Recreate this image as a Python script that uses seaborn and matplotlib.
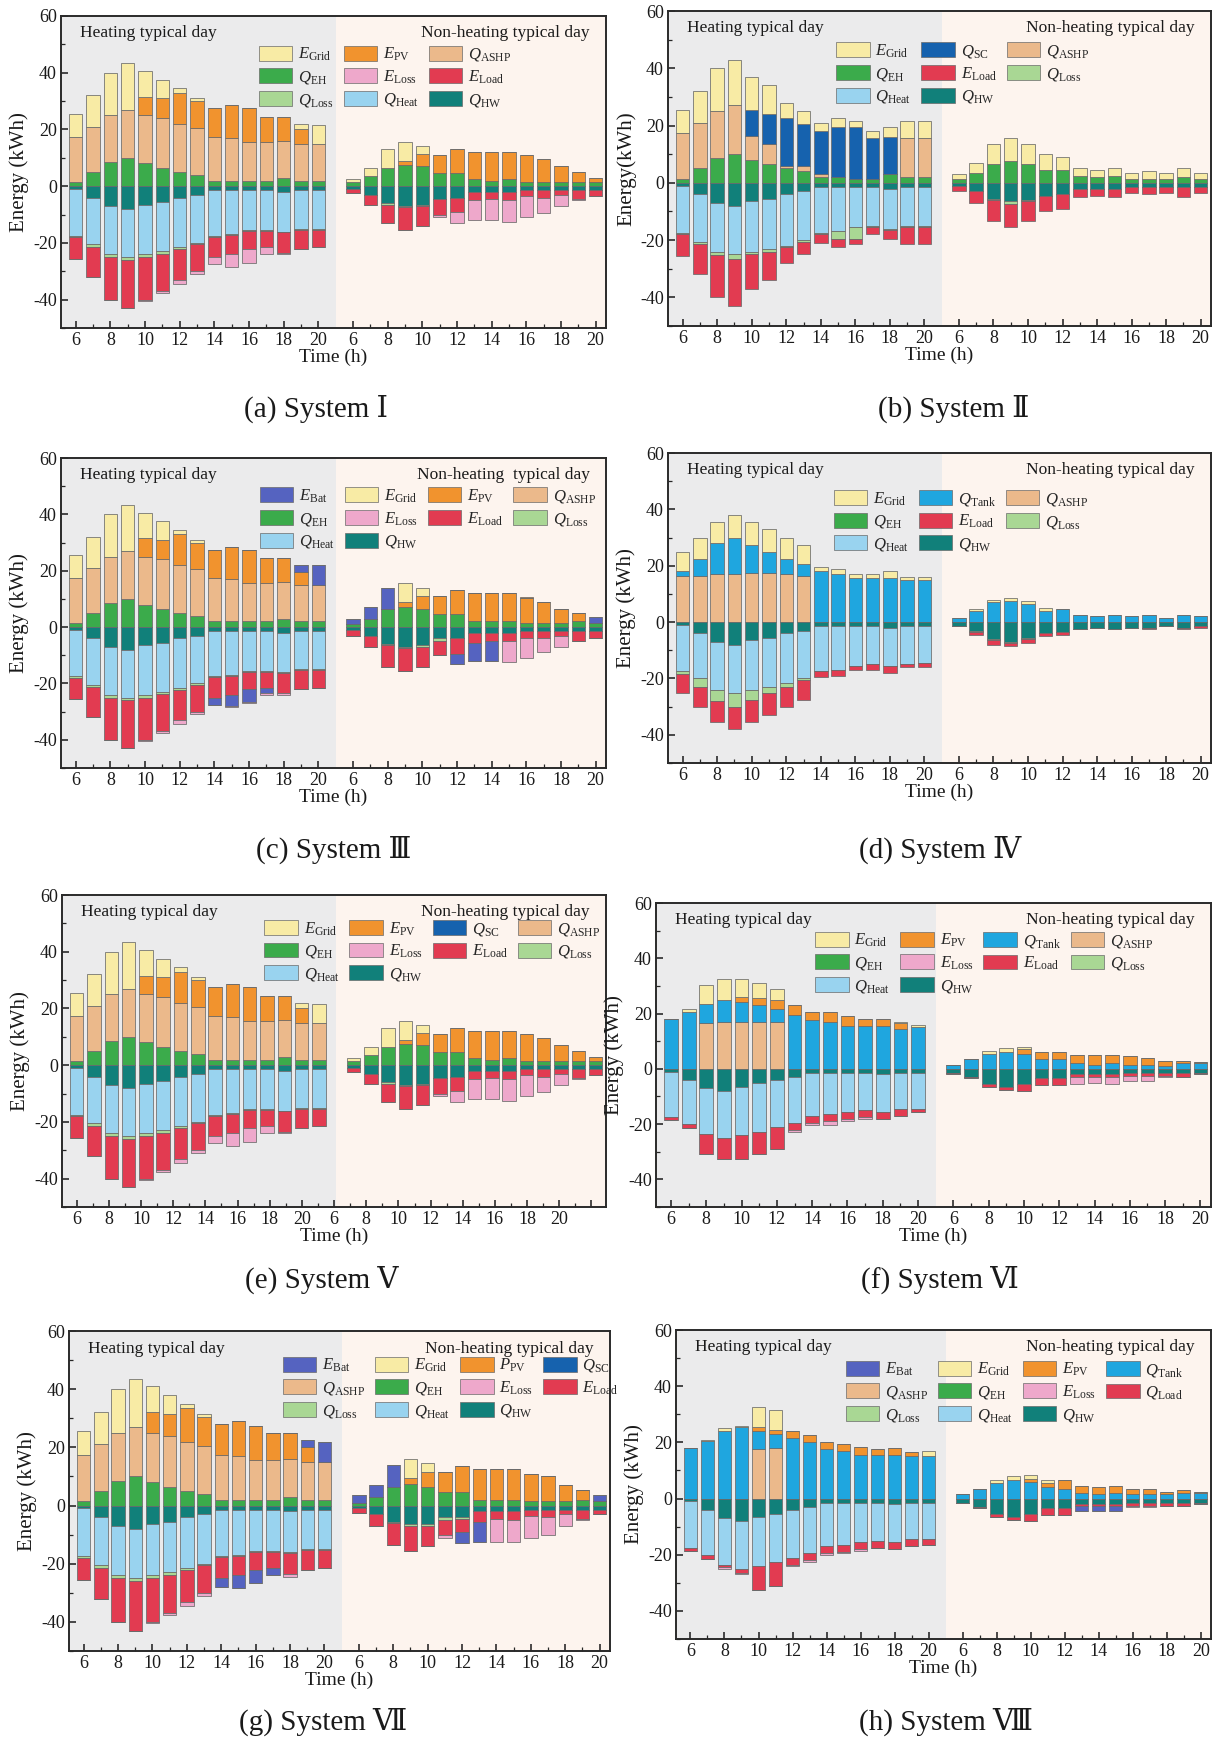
import numpy as np
import pandas as pd
import matplotlib
matplotlib.use("Agg")
import matplotlib.pyplot as plt
import seaborn as sns
from matplotlib.patches import Patch
from matplotlib.ticker import MultipleLocator, FixedLocator

sns.set_theme(style="ticks")
plt.rcParams['font.family'] = ['Liberation Serif', 'DejaVu Serif', 'DejaVu Sans']
plt.rcParams['mathtext.fontset'] = 'custom'
plt.rcParams['mathtext.rm'] = 'Liberation Serif'
plt.rcParams['mathtext.it'] = 'Liberation Serif:italic'
plt.rcParams['axes.unicode_minus'] = False

# ---------------- data ----------------
HOURS = [6, 7, 8, 9, 10, 11, 12, 13, 14, 15, 16, 17, 18, 19, 20]

# heating-day hot-water demand (same in every system)
HW_H = [1, 4, 7, 8, 6.5, 5.5, 4, 3, 1.5, 1.5, 1.5, 1.5, 2, 1.5, 1.5]

# ---- System I (also used for System V) : heating 15 values, then non-heating 15 values
S1_EH = [1.5, 5, 8.5, 10, 8, 6.5, 5, 4, 2, 2, 2, 2, 3, 2, 2,
         1.5, 3.5, 6.5, 7.5, 7, 4.5, 4.5, 2.5, 2, 2.5, 1.5, 1.5, 1.5, 1.5, 1.5]
S1_ASHP = [16, 16, 16.5, 17, 17, 17.5, 17, 16.5, 15.5, 15, 13.5, 13.5, 13, 13, 13,
           0, 0, 0, 0, 0, 0, 0, 0, 0, 0, 0, 0, 0, 0, 0]
S1_PV = [0, 0, 0, 0, 6.5, 7, 11, 9.5, 10, 11.5, 12, 9, 8.5, 5, 0,
         0, 0, 0, 1.5, 4.5, 6.5, 8.5, 9.5, 10, 9.5, 9.5, 8, 5.5, 3.5, 1.5]
S1_GRID = [8, 11, 15, 16.5, 9, 6.5, 1.5, 1, 0, 0, 0, 0, 0, 2, 6.5,
           1, 3, 6.5, 6.5, 2.5, 0, 0, 0, 0, 0, 0, 0, 0, 0, 0]
S1_HW_N = [1, 3, 6, 7, 6.5, 4.5, 4, 2, 2, 2, 1.5, 1.5, 1.5, 1.5, 1.5]
S1_HEAT = [16.5, 16.5, 17, 17, 17.5, 17.5, 17.5, 17, 16, 15.5, 14, 14, 14, 13.5, 13.5,
           0, 0, 0, 0, 0, 0, 0, 0, 0, 0, 0, 0, 0, 0, 0]
S1_QLOSS = [0.5, 0.8, 1, 1, 1, 0.8, 0.8, 0.5, 0.3, 0.3, 0.3, 0.3, 0.3, 0.3, 0.3,
            0, 0, 0.5, 0.5, 0.5, 0, 0, 0, 0, 0, 0, 0, 0, 0, 0]
S1_LOAD = [7.5, 10.7, 15, 17, 15, 13.2, 10.7, 9.5, 7.2, 6.7, 6.2, 5.7, 7.2, 6.7, 6.2,
           1.5, 3.5, 6.5, 8, 7, 5.5, 5, 3, 2.5, 3, 2, 2.5, 1.5, 3, 2]
S1_ELOSS = [0, 0, 0, 0, 0.5, 0.5, 1.5, 1, 2.5, 4.5, 5, 2.5, 0.5, 0, 0,
            0, 0, 0, 0, 0, 1, 4, 7, 7.5, 7.5, 7.5, 5.5, 4, 0.5, 0]

# ---- System II
S2_EH = [1.5, 5, 8.5, 10, 8, 6.5, 5, 4, 2, 2, 1.5, 1.5, 3, 2, 2,
         1.5, 3.5, 6.5, 7.5, 6.5, 4.5, 4.5, 2.5, 2, 2.5, 1.5, 1.5, 1.5, 2, 1.5]
S2_ASHP = [16, 16, 16.5, 17, 8.5, 7, 1, 2, 1, 0, 0, 0, 0, 13.5, 13.5,
           0, 0, 0, 0, 0, 0, 0, 0, 0, 0, 0, 0, 0, 0, 0]
S2_SC = [0, 0, 0, 0, 9, 10.5, 16.5, 14.5, 15, 17.5, 18, 14, 13, 0, 0,
         0, 0, 0, 0, 0, 0, 0, 0, 0, 0, 0, 0, 0, 0, 0]
S2_GRID = [8, 11, 15, 16, 11.5, 10, 5.5, 4.5, 3, 3, 2, 2.5, 3.5, 6, 6,
           1.5, 3.5, 7, 8, 7, 5.5, 4.5, 2.5, 2.5, 2.5, 2, 2.5, 2, 3, 2]
S2_HW_N = [1, 3, 5.5, 6.5, 6, 4.5, 4, 2, 2, 2, 1.5, 1.5, 1.5, 1.5, 1.5]
S2_HEAT = [16.5, 16.5, 17, 17, 17.5, 17.5, 18, 17, 16, 15.5, 14, 13.5, 14, 13.5, 13.5,
           0, 0, 0, 0, 0, 0, 0, 0, 0, 0, 0, 0, 0, 0, 0]
S2_QLOSS = [0.5, 0.8, 1.2, 1.5, 1, 1, 0.5, 0.5, 0.5, 2.5, 4, 0.5, 0.5, 0.3, 0.3,
            0, 0, 0.5, 1, 0.5, 0, 0, 0, 0, 0, 0, 0, 0, 0, 0]
S2_LOAD = [7.5, 10.7, 14.8, 16.5, 12, 10, 5.5, 4.5, 3, 3, 2, 2.5, 3, 6.2, 6.2,
           2, 4, 7.5, 8, 7, 5.5, 5, 3, 2.5, 3, 2, 2.5, 2, 3.5, 2]

# ---- System III
S3_EH_N = [1, 3, 6.5, 7, 6.5, 4.5, 4.5, 2, 2, 2, 1.5, 1.5, 1.5, 2, 1.5]
S3_PV = [0, 0, 0, 0, 6.5, 7, 11, 9.5, 10, 11.5, 12, 9, 8.5, 4.5, 0,
         0, 0, 0, 2, 4.5, 6.5, 8.5, 10, 10, 10, 9, 7.5, 5, 3, 0]
S3_BAT = [0, 0, 0, 0, 0, 0, 0, 0, 0, 0, 0, 0, 0, 2.5, 7,
          2, 4, 7.5, 0, 0, 0, 0, 0, 0, 0, 0, 0, 0, 0, 2]
S3_GRID = [8, 11, 15, 16.5, 9, 6.5, 1.5, 1, 0, 0, 0, 0, 0, 0, 0,
           0, 0, 0, 6.5, 3, 0, 0, 0, 0, 0, 0, 0, 0, 0, 0]
S3_HW_N = [1, 3, 6, 7, 6.5, 4, 4, 2, 2, 2, 1.5, 1.5, 1.5, 1.5, 1.5]
S3_QLOSS_N = [0, 0, 0.5, 0.5, 0.5, 1, 0, 0, 0, 0, 0, 0, 0, 0, 0]
S3_LOAD_N = [2, 4, 7.5, 8, 7, 5, 5.5, 3.5, 3, 3, 2.5, 2.5, 1.5, 3.5, 2.5]
S3_BATC = [0, 0, 0, 0, 0, 0, 0, 0, 2.5, 4, 4.5, 2, 0, 0, 0,
           0, 0, 0, 0, 0, 0, 3.5, 6.5, 7, 0, 0, 0, 0, 0, 0]
S3_ELOSS = [0, 0, 0, 0, 0.5, 0.5, 1.5, 1, 0, 0.5, 0.5, 0.5, 0.5, 0, 0,
            0, 0, 0, 0, 0, 0, 0, 0, 0, 7.5, 7, 5, 4, 0, 0]

# ---- System IV
S4_ASHP = [16.5, 16.5, 17, 17, 17.5, 17.5, 17, 16.5, 0, 0, 0, 0, 0, 0, 0,
           0, 0, 0, 0, 0, 0, 0, 0, 0, 0, 0, 0, 0, 0, 0]
S4_TANK = [1.5, 6, 11, 13, 10, 7.5, 5.5, 4, 18, 17, 15.5, 15.5, 15.5, 15, 15,
           1.5, 4, 7, 7.5, 6.5, 4, 4.5, 2.5, 2, 2.5, 2, 2.5, 1.5, 2.5, 2]
S4_GRID = [7, 7.5, 7.5, 8, 8, 8, 7.5, 7, 1.5, 2, 1.5, 1.5, 2.5, 1, 1,
           0, 0.5, 1, 1, 1, 1, 0, 0, 0, 0, 0, 0, 0, 0, 0]
S4_HW_N = [1.5, 3, 6, 7, 5.5, 4, 3.5, 2.5, 2, 2.5, 2, 2, 1.5, 2, 1.5]
S4_HEAT = [16.5, 16, 17, 17, 17.5, 17.5, 17.5, 17, 16, 15.5, 14, 13.5, 13.5, 13.5, 13,
           0, 0, 0, 0, 0, 0, 0, 0, 0, 0, 0, 0, 0, 0, 0]
S4_QLOSS = [1, 3, 4, 5, 3.5, 2, 1.5, 0.5, 0, 0, 0, 0, 0, 0, 0,
            0, 0.5, 0.5, 0.5, 0.5, 0, 0, 0, 0, 0, 0, 0, 0, 0, 0]
S4_LOAD = [6.5, 7, 7.5, 8, 8, 8, 7, 7, 2, 2, 1.5, 2, 2.5, 1, 1.5,
           0, 1, 1.5, 1, 1.5, 1, 1, 0, 0, 0, 0, 0.5, 0, 0.5, 0.5]

# ---- System VI
S6_ASHP = [0, 0, 16.5, 17, 17, 17, 17, 0, 0, 0, 0, 0, 0, 0, 0,
           0, 0, 0, 0, 0, 0, 0, 0, 0, 0, 0, 0, 0, 0, 0]
S6_TANK = [18, 20.5, 7, 8, 7, 6, 4.5, 19.5, 17.5, 17, 15.5, 15.5, 15.5, 14.5, 15,
           1.5, 3.5, 5.5, 6, 5.5, 3.5, 3.5, 2, 1.5, 2, 1.5, 1.5, 1, 2, 2]
S6_PV = [0, 0, 0, 0, 2, 2.5, 3.5, 3.5, 3, 3.5, 3.5, 2.5, 2.5, 2, 0,
         0, 0, 0, 0, 1.5, 2.5, 2.5, 3, 3.5, 3, 3, 2.5, 2, 1, 0.5]
S6_GRID = [0, 1, 7, 7.5, 6.5, 5.5, 4, 0, 0, 0, 0, 0, 0, 0.5, 1,
           0, 0, 1, 1.5, 1, 0, 0, 0, 0, 0, 0, 0, 0, 0, 0]
S6_HW = [1, 4, 7, 8, 6.5, 5, 4, 3, 1.5, 1.5, 1.5, 1.5, 2, 1.5, 1.5,
         1.5, 3, 5.5, 6.5, 5.5, 3.5, 3.5, 2, 2, 2, 1.5, 1.5, 1.5, 1.5, 1.5]
S6_HEAT = [16.5, 16, 16.5, 17, 17.5, 18, 17, 16.5, 15.5, 15, 14, 13.5, 13.5, 13, 13,
           0, 0, 0, 0, 0, 0, 0, 0, 0, 0, 0, 0, 0, 0, 0]
S6_LOAD = [1, 1.5, 7.5, 7.5, 8.5, 8, 8, 2.5, 2.5, 2.5, 2.5, 2.5, 2.5, 2.5, 1,
           0.5, 0.5, 1, 1, 2.5, 2.5, 2.5, 1, 1, 1, 1, 1, 1, 1.5, 0.5]
S6_ELOSS = [0, 0, 0, 0, 0, 0, 0, 1, 1, 1.5, 1, 0.5, 0, 0, 0,
            0, 0, 0, 0, 0, 0, 0, 2.5, 2, 2.5, 2, 2, 0.5, 0, 0]

# ---- System VII
S7_EH_N = [1, 3, 6.5, 7.5, 6.5, 4.5, 4.5, 2, 2, 2, 1.5, 1.5, 1.5, 2, 1.5]
S7_PV = [0, 0, 0, 0, 7, 7.5, 11.5, 10, 10.5, 12, 12, 9.5, 9, 5, 0,
         0, 0, 0, 2, 5, 7, 9, 10.5, 10.5, 10.5, 9.5, 8.5, 5.5, 3.5, 0]
S7_BAT = [0, 0, 0, 0, 0, 0, 0, 0, 0, 0, 0, 0, 0, 2.5, 7,
          2.5, 4, 7.5, 0, 0, 0, 0, 0, 0, 0, 0, 0, 0, 0, 2]
S7_GRID = [8, 11, 15, 16.5, 9, 6.5, 1.5, 1, 0, 0, 0, 0, 0, 0, 0,
           0, 0, 0, 6.5, 3, 0, 0, 0, 0, 0, 0, 0, 0, 0, 0]
S7_HW_N = [1, 3, 5.5, 6.5, 6.5, 4, 4, 2, 2, 2, 1.5, 1.5, 1.5, 1.5, 1.5]
S7_QLOSS_N = [0, 0, 0.5, 0.5, 0.5, 1, 0.5, 0, 0, 0, 0, 0, 0, 0, 0]
S7_LOAD_N = [1.5, 4, 7.5, 8.5, 7, 5, 4.5, 3.5, 2.5, 3, 2, 2.5, 1.5, 3, 1.5]
S7_BATC = [0, 0, 0, 0, 0, 0, 0, 0, 3, 4.5, 4.5, 2.5, 0, 0, 0,
           0, 0, 0, 0, 0, 0, 4, 7, 0, 0, 0, 0, 0, 0, 0]
S7_ELOSS = [0, 0, 0, 0, 0.5, 0.5, 1.5, 1, 0, 0, 0, 0, 1, 0, 0,
            0, 0, 0, 0, 0, 1, 0, 0, 8, 7.5, 7.5, 6, 4, 0.5, 0]

# ---- System VIII
S8_ASHP = [0, 0, 0, 0, 17.5, 18, 0, 0, 0, 0, 0, 0, 0, 0, 0,
           0, 0, 0, 0, 0, 0, 0, 0, 0, 0, 0, 0, 0, 0, 0]
S8_TANK = [18, 20.5, 24, 25.5, 6.5, 5, 21.5, 20, 17.5, 17, 15.5, 15.5, 15.5, 15, 15,
           1.5, 3.5, 5.5, 6.5, 6, 4, 3.5, 2, 1.5, 2, 1.5, 1.5, 1.5, 2, 2]
S8_PV = [0, 0, 0, 0, 1.5, 1.5, 2.5, 2.5, 2.5, 2.5, 3, 2, 2.5, 1.5, 0,
         0, 0, 0, 0, 1, 1.5, 3, 2.5, 2.5, 2.5, 2, 2, 1, 1, 0.5]
S8_GRID = [0, 0.5, 1, 0.5, 7, 7, 0, 0, 0, 0, 0, 0, 0, 0, 2,
           0, 0, 1, 1.5, 1.5, 1, 0, 0, 0, 0, 0, 0, 0, 0, 0]
S8_HW_N = [1.5, 3, 5.5, 6.5, 5.5, 3.5, 3.5, 2, 2, 2, 1.5, 1.5, 1.5, 1.5, 1.5]
S8_HEAT = [16.5, 16, 16.5, 17, 17.5, 17, 17, 16.5, 15.5, 15, 14, 13.5, 13.5, 13, 13,
           0, 0, 0, 0, 0, 0, 0, 0, 0, 0, 0, 0, 0, 0, 0]
S8_LOAD = [1, 1.5, 1, 1.5, 8.5, 8.5, 2.5, 2.5, 2.5, 2.5, 2.5, 2.5, 2.5, 2.5, 2,
           0, 0.5, 1, 1, 2.5, 2.5, 2.5, 0.5, 0.5, 0.5, 1, 1, 1, 1, 0.5]
S8_BATC = [0, 0, 0, 0, 0, 0, 0, 0, 0, 0, 0, 0, 0, 0, 0,
           0, 0, 0, 0, 0, 0, 0, 2, 2, 2, 0, 0, 0, 0, 0]
S8_ELOSS = [0, 0, 0.5, 0.5, 0, 0, 0.5, 0.5, 0.5, 0.5, 0.5, 0, 0, 0, 0,
            0, 0, 0, 0, 0, 0, 0, 0, 0, 0, 0.5, 0.5, 0, 0, 0]

# ---------------- styles ----------------
COLORS = {
    'E_Bat': '#5563c0', 'E_Grid': '#f8eba5', 'E_PV': '#f1932e', 'P_PV': '#f1932e',
    'Q_SC': '#1662ae', 'Q_Tank': '#1fa6df', 'Q_ASHP': '#ebb98b', 'Q_EH': '#3bab4b',
    'E_Loss': '#eea8cb', 'E_Load': '#e23b51', 'Q_Load': '#e23b51', 'Q_Loss': '#a9d794',
    'Q_Heat': '#99d3ef', 'Q_HW': '#11807a',
}
LABELS = {k: r'$%s_{\mathrm{%s}}$' % tuple(k.split('_')) for k in COLORS}
EDGE = '#6a6a6a'
HEAT_BG = '#ebebec'
NONHEAT_BG = '#fdf4ee'
XLIM = (-0.85, 30.6)
NH = len(HOURS)
X_POS = np.r_[np.arange(NH), np.arange(NH) + NH + 1]
MAJOR_POS = list(np.r_[X_POS[:NH][::2], X_POS[NH:][::2]])
MINOR_POS = list(np.r_[X_POS[:NH][1::2], X_POS[NH:][1::2]])

def both(h, n):
    return list(h) + list(n)

S1_HW = both(HW_H, S1_HW_N)

PANELS = [
    dict(tag='(a) System Ⅰ', box=(61, 16, 606, 328), cap=(316, 409), ylabel='Energy (kWh)',
         pos=[('Q_EH', S1_EH), ('Q_ASHP', S1_ASHP), ('E_PV', S1_PV), ('E_Grid', S1_GRID)],
         neg=[('Q_HW', S1_HW), ('Q_Heat', S1_HEAT), ('Q_Loss', S1_QLOSS), ('E_Load', S1_LOAD), ('E_Loss', S1_ELOSS)],
         legend=['E_Grid', 'E_PV', 'Q_ASHP', 'Q_EH', 'E_Loss', 'E_Load', 'Q_Loss', 'Q_Heat', 'Q_HW'],
         ncol=3, leg=(0.363, 0.905), nh='Non-heating typical day'),
    dict(tag='(b) System Ⅱ', box=(668, 11, 1211, 326), cap=(954, 409), ylabel='Energy(kWh)',
         pos=[('Q_EH', S2_EH), ('Q_ASHP', S2_ASHP), ('Q_SC', S2_SC), ('E_Grid', S2_GRID)],
         neg=[('Q_HW', both(HW_H, S2_HW_N)), ('Q_Heat', S2_HEAT), ('Q_Loss', S2_QLOSS), ('E_Load', S2_LOAD)],
         legend=['E_Grid', 'Q_SC', 'Q_ASHP', 'Q_EH', 'E_Load', 'Q_Loss', 'Q_Heat', 'Q_HW'],
         ncol=3, leg=(0.31, 0.90), nh='Non-heating typical day'),
    dict(tag='(c) System Ⅲ', box=(61, 458, 606, 768), cap=(334, 850), ylabel='Energy (kWh)',
         pos=[('Q_EH', both(S1_EH[:15], S3_EH_N)), ('Q_ASHP', S1_ASHP), ('E_PV', S3_PV), ('E_Bat', S3_BAT), ('E_Grid', S3_GRID)],
         neg=[('Q_HW', both(HW_H, S3_HW_N)), ('Q_Heat', S1_HEAT), ('Q_Loss', both(S1_QLOSS[:15], S3_QLOSS_N)),
              ('E_Load', both(S1_LOAD[:15], S3_LOAD_N)), ('E_Bat', S3_BATC), ('E_Loss', S3_ELOSS)],
         legend=['E_Bat', 'E_Grid', 'E_PV', 'Q_ASHP', 'Q_EH', 'E_Loss', 'E_Load', 'Q_Loss', 'Q_Heat', 'Q_HW'],
         ncol=4, leg=(0.365, 0.905), nh='Non-heating  typical day'),
    dict(tag='(d) System Ⅳ', box=(668, 453, 1211, 763), cap=(940, 850), ylabel='Energy (kWh)',
         pos=[('Q_ASHP', S4_ASHP), ('Q_Tank', S4_TANK), ('E_Grid', S4_GRID)],
         neg=[('Q_HW', both(HW_H, S4_HW_N)), ('Q_Heat', S4_HEAT), ('Q_Loss', S4_QLOSS), ('E_Load', S4_LOAD)],
         legend=['E_Grid', 'Q_Tank', 'Q_ASHP', 'Q_EH', 'E_Load', 'Q_Loss', 'Q_Heat', 'Q_HW'],
         ncol=3, leg=(0.305, 0.88), nh='Non-heating typical day'),
    dict(tag='(e) System Ⅴ', box=(62, 895, 606, 1207), cap=(322, 1280), ylabel='Energy (kWh)',
         pos=[('Q_EH', S1_EH), ('Q_ASHP', S1_ASHP), ('E_PV', S1_PV), ('E_Grid', S1_GRID)],
         neg=[('Q_HW', S1_HW), ('Q_Heat', S1_HEAT), ('Q_Loss', S1_QLOSS), ('E_Load', S1_LOAD), ('E_Loss', S1_ELOSS)],
         legend=['E_Grid', 'E_PV', 'Q_SC', 'Q_ASHP', 'Q_EH', 'E_Loss', 'E_Load', 'Q_Loss', 'Q_Heat', 'Q_HW'],
         ncol=4, leg=(0.372, 0.92), nh='Non-heating typical day', odd_ticks=True),
    dict(tag='(f) System Ⅵ', box=(656, 903, 1211, 1207), cap=(940, 1280), ylabel='Energy (kWh)',
         pos=[('Q_ASHP', S6_ASHP), ('Q_Tank', S6_TANK), ('E_PV', S6_PV), ('E_Grid', S6_GRID)],
         neg=[('Q_HW', S6_HW), ('Q_Heat', S6_HEAT), ('E_Load', S6_LOAD), ('E_Loss', S6_ELOSS)],
         legend=['E_Grid', 'E_PV', 'Q_Tank', 'Q_ASHP', 'Q_EH', 'E_Loss', 'E_Load', 'Q_Loss', 'Q_Heat', 'Q_HW'],
         ncol=4, leg=(0.287, 0.905), nh='Non-heating typical day'),
    dict(tag='(g) System Ⅶ', box=(69, 1331, 610, 1651), cap=(323, 1722), ylabel='Energy (kWh)',
         pos=[('Q_EH', both(S1_EH[:15], S7_EH_N)), ('Q_ASHP', S1_ASHP), ('P_PV', S7_PV), ('E_Bat', S7_BAT), ('E_Grid', S7_GRID)],
         neg=[('Q_HW', both(HW_H, S7_HW_N)), ('Q_Heat', S1_HEAT), ('Q_Loss', both(S1_QLOSS[:15], S7_QLOSS_N)),
              ('E_Load', both(S1_LOAD[:15], S7_LOAD_N)), ('E_Bat', S7_BATC), ('E_Loss', S7_ELOSS)],
         legend=['E_Bat', 'E_Grid', 'P_PV', 'Q_SC', 'Q_ASHP', 'Q_EH', 'E_Loss', 'E_Load', 'Q_Loss', 'Q_Heat', 'Q_HW'],
         ncol=4, leg=(0.395, 0.92), nh='Non-heating typical day'),
    dict(tag='(h) System Ⅷ', box=(676, 1330, 1211, 1639), cap=(946, 1722), ylabel='Energy (kWh)',
         pos=[('Q_ASHP', S8_ASHP), ('Q_Tank', S8_TANK), ('E_PV', S8_PV), ('E_Grid', S8_GRID)],
         neg=[('Q_HW', both(HW_H, S8_HW_N)), ('Q_Heat', S8_HEAT), ('Q_Load', S8_LOAD), ('E_Bat', S8_BATC), ('E_Loss', S8_ELOSS)],
         legend=['E_Bat', 'E_Grid', 'E_PV', 'Q_Tank', 'Q_ASHP', 'Q_EH', 'E_Loss', 'Q_Load', 'Q_Loss', 'Q_Heat', 'Q_HW'],
         ncol=4, leg=(0.317, 0.90), nh='Non-heating typical day'),
]


def colmajor(keys, ncol):
    nrow = -(-len(keys) // ncol)
    out = []
    for c in range(ncol):
        for r in range(nrow):
            i = r * ncol + c
            if i < len(keys):
                out.append(keys[i])
    return out


def draw_stack(ax, layers, sign):
    base = np.zeros(len(X_POS))
    for key, vals in layers:
        v = sign * np.asarray(vals, dtype=float)
        df = pd.DataFrame({'x': X_POS, 'y': v})
        sns.barplot(data=df, x='x', y='y', bottom=base, native_scale=True,
                    color=COLORS[key], saturation=1, width=0.78, errorbar=None,
                    edgecolor=EDGE, linewidth=0.55, legend=False, ax=ax, zorder=2)
        base = base + v


W, H = 1215, 1744
fig = plt.figure(figsize=(W / 100, H / 100), dpi=100)
fig.patch.set_facecolor('white')

for p in PANELS:
    L, T, R, B = p['box']
    ax = fig.add_axes([L / W, 1 - B / H, (R - L) / W, (B - T) / H])
    ax.axvspan(XLIM[0], NH, color=HEAT_BG, zorder=0, lw=0)
    ax.axvspan(NH, XLIM[1], color=NONHEAT_BG, zorder=0, lw=0)
    draw_stack(ax, p['pos'], 1)
    draw_stack(ax, p['neg'], -1)
    ax.set_xlim(*XLIM)
    ax.set_ylim(-50, 60)
    ax.set_yticks([-40, -20, 0, 20, 40, 60])
    ax.set_yticklabels(['-40', '-20', '0', '20', '40', '60'])
    ax.yaxis.set_minor_locator(MultipleLocator(10))
    tick_labels = [str(h) for h in HOURS[::2]] * 2
    if p.get('odd_ticks'):
        step = 1.86
        majors = [k * step for k in range(len(tick_labels) + 1)]
        ax.xaxis.set_major_locator(FixedLocator(majors))
        ax.set_xticklabels(tick_labels + [''])
        ax.xaxis.set_minor_locator(FixedLocator([m + step / 2 for m in majors]))
    else:
        ax.xaxis.set_major_locator(FixedLocator(MAJOR_POS))
        ax.set_xticklabels(tick_labels)
        ax.xaxis.set_minor_locator(FixedLocator(MINOR_POS))
    ax.tick_params(which='major', direction='in', length=5, width=1.1, labelsize=13,
                   colors='#1a1a1a', pad=3, top=False, right=False)
    ax.tick_params(which='minor', direction='in', length=3, width=0.9, top=False, right=False)
    for s in ax.spines.values():
        s.set_linewidth(1.4)
        s.set_color('#2a2a2a')
    ax.set_xlabel('Time (h)', fontsize=14, labelpad=0, color='#1a1a1a')
    ax.set_ylabel(p['ylabel'], fontsize=15, labelpad=3, color='#1a1a1a')
    ax.text(0.035, 0.945, 'Heating typical day', transform=ax.transAxes, ha='left', va='center',
            fontsize=12.5, color='#1a1a1a')
    ax.text(0.97, 0.945, p['nh'], transform=ax.transAxes, ha='right', va='center',
            fontsize=12.5, color='#1a1a1a')
    keys = colmajor(p['legend'], p['ncol'])
    handles = [Patch(facecolor=COLORS[k], edgecolor=EDGE, linewidth=0.5, label=LABELS[k]) for k in keys]
    ax.legend(handles=handles, ncol=p['ncol'], loc='upper left', bbox_to_anchor=p['leg'],
              frameon=False, fontsize=12, handlelength=2.0, handleheight=1.0,
              handletextpad=0.35, columnspacing=0.6, labelspacing=0.3,
              borderpad=0, borderaxespad=0)
    fig.text(p['cap'][0] / W, 1 - p['cap'][1] / H, p['tag'], ha='center', va='center',
             fontsize=21, color='#1a1a1a',
             family=['Liberation Serif', 'DejaVu Serif', 'DejaVu Sans', 'Noto Sans CJK SC'])

fig.savefig('out.png', dpi=100, facecolor='white')
